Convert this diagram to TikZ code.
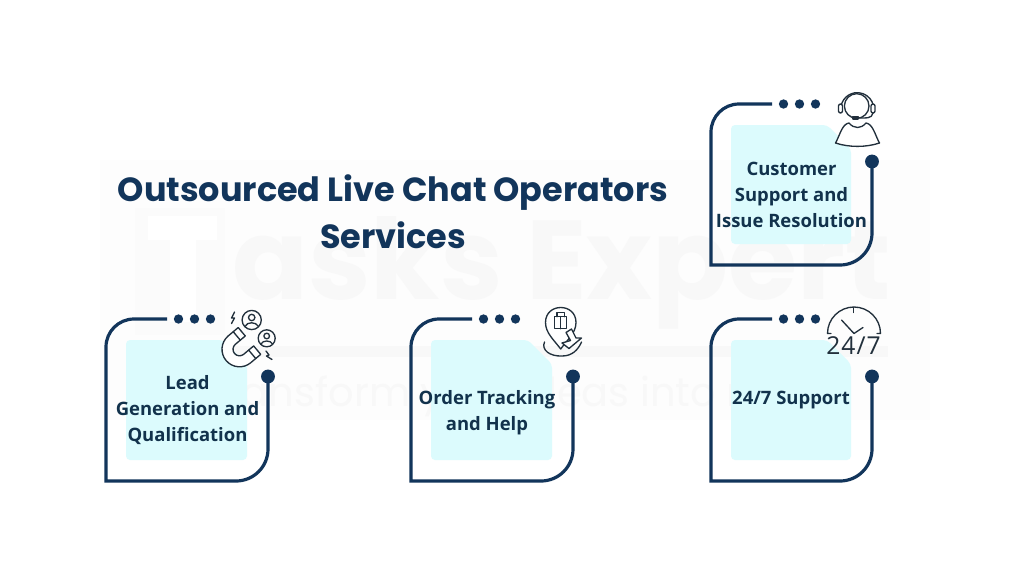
\documentclass[tikz,border=0pt]{standalone}
\usepackage{fontspec}
\setmainfont{Open Sans}
\newfontfamily\titlefont{Poppins}
\definecolor{navy}{HTML}{12355B}
\definecolor{labelink}{HTML}{12324C}
\definecolor{inkline}{HTML}{22303C}
\definecolor{tint}{HTML}{DCFBFD}
\definecolor{ghost}{HTML}{F8F8F8}
\definecolor{haze}{HTML}{FDFDFD}
\tikzset{
  frameline/.style={draw=navy,line width=2.4pt},
  panel/.style={fill=tint,rounded corners=3pt},
  dotmark/.style={circle,fill=navy,inner sep=0pt,minimum size=7pt},
  pinmark/.style={circle,fill=navy,inner sep=0pt,minimum size=10.4pt},
  cardlabel/.style={text=labelink,font=\fontsize{13.85}{19.5}\selectfont\bfseries,align=center,inner sep=0pt},
  headline/.style={text=navy,font=\titlefont\fontsize{25.1}{30}\selectfont\bfseries,inner sep=0pt,anchor=base},
  glyph/.style={draw=inkline,line width=1pt,line join=round,line cap=round},
}
% Service card: #1,#2 top-left of the frame, #3 width, #4 height, #5 name prefix
\newcommand{\servicecard}[5]{%
  \begin{scope}[shift={(#1,#2)}]
    \fill[panel] (20,21) -- (#3-45,21) -- (#3-21,45) -- (#3-21,#4-21) -- (20,#4-21) -- cycle;
    \node[dotmark] (#5d1) at (72.5,0) {};
    \node[dotmark] (#5d2) at (88.5,0) {};
    \node[dotmark] (#5d3) at (104.5,0) {};
    \node[pinmark] (#5p) at (#3,57.5) {};
    \coordinate (#5s) at (61,0);
    \draw[frameline] (#5s) -- (28,0) arc[start angle=-90,end angle=-180,radius=28]
      -- (0,#4) -- (#3-32,#4) arc[start angle=90,end angle=0,radius=32] -- (#5p.center);
  \end{scope}}
\begin{document}
\begin{tikzpicture}[x=0.75pt,y=0.75pt,yscale=-1]
\useasboundingbox (0,0) rectangle (1024,576);
\fill[white] (0,0) rectangle (1024,576);
% pale brand mark behind everything
\fill[haze] (100,160) rectangle (930,420);
\fill[ghost!60!white] (135,208) rectangle (225,335);
\fill[white] (148,216) rectangle (217,240);
\fill[white] (170,240) rectangle (196,322);
\fill[ghost] (135,346) rectangle (888,357);
\node[text=ghost,font=\titlefont\fontsize{84}{84}\selectfont\bfseries,anchor=base west,inner sep=0pt] (brand) at (232,299) {asks Expert};
\node[text=ghost,font=\titlefont\fontsize{30}{30}\selectfont,anchor=base west,inner sep=0pt] (motto) at (205,406) {Transform your ideas into reality};
% heading
\node[headline] (h1) at (393,201.5) {Outsourced Live Chat Operators};
\node[headline] (h2) at (393,248.5) {Services};
% cards
\servicecard{711}{104}{161}{161}{cs}
\servicecard{106}{319}{162}{162}{lg}
\servicecard{411}{319}{162}{162}{ot}
\servicecard{711}{319}{161}{162}{ts}
\node[cardlabel] (csl) at (791.5,195) {Customer\\Support and\\Issue Resolution};
\node[cardlabel] (lgl) at (187.5,410.5) {Lead\\Generation and\\Qualification};
\node[cardlabel] (otl) at (487,413) {Order Tracking\\and Help};
\node[cardlabel] (tsl) at (791,400) {24/7 Support};
% headset operator
\draw[glyph] (856.7,106) circle[radius=12.3];
\draw[glyph] (841,112) arc[start angle=170,end angle=370,radius=16.5];
\draw[glyph,fill=white,rounded corners=1.5pt] (838.5,104) rectangle (842.5,113);
\draw[glyph,fill=white,rounded corners=1.5pt] (871,104) rectangle (875,113);
\draw[glyph] (873,113) .. controls (872,119) and (865,118) .. (858,118);
\draw[glyph,fill=inkline] (853,116.5) rectangle (858,119);
\draw[glyph,fill=white] (835.5,143) .. controls (840,135) and (842,124) .. (849,123)
  .. controls (854,129) and (861,129) .. (866,123)
  .. controls (873,124) and (875,135) .. (879.5,143)
  .. controls (866,147.5) and (849,147.5) .. (835.5,143) -- cycle;
% magnet and two contacts
\begin{scope}[shift={(239.5,349.3)},rotate=-40]
  \draw[glyph,fill=white] (13,-17.5) -- (0,-17.5) arc[start angle=-90,end angle=-270,radius=17.5] -- (13,17.5)
    -- (13,6.5) -- (0,6.5) arc[start angle=90,end angle=270,radius=6.5] -- (13,-6.5) -- cycle;
  \draw[glyph] (6.5,-17.5) -- (6.5,-6.5) (6.5,6.5) -- (6.5,17.5);
\end{scope}
\draw[glyph] (251.7,320) circle[radius=9.6];
\draw[glyph] (251.7,317.5) circle[radius=3.2];
\draw[glyph] (245,326.5) .. controls (247,321.5) and (256,321.5) .. (258.5,326.5);
\draw[glyph] (266.7,338.3) circle[radius=8.5];
\draw[glyph] (266.7,336) circle[radius=2.8];
\draw[glyph] (261,344) .. controls (262.5,340) and (271,340) .. (272.5,344);
\draw[glyph] (234.5,312) -- (231.5,318) -- (234.5,318) -- (231.5,323.5);
\draw[glyph] (266,351) -- (269,355) -- (266.5,356) -- (272,359.5);
% map pin, parcel and arrow
\draw[glyph] (544.5,342) .. controls (541,350) and (550,356.5) .. (562,356) .. controls (572,356) and (578,350) .. (581.5,342);
\draw[glyph,fill=white] (560.7,349) .. controls (554,340) and (545.5,333) .. (545.5,322.5)
  .. controls (545.5,302.5) and (576,302.5) .. (576,322.5)
  .. controls (576,333) and (567,340) .. (560.7,349) -- cycle;
\draw[glyph] (554.8,316.7) rectangle (566.7,328.7);
\draw[glyph] (557,316.7) -- (557,312.5) -- (564.5,312.5) -- (564.5,316.7);
\draw[glyph] (560.7,316.7) -- (560.7,328.7);
\draw[glyph,fill=white] (566,332.5) -- (571.5,329) -- (576,338) -- (581.5,338) -- (569,348.5) -- (562,343) -- (570.5,340.5) -- cycle;
% clock over the round-the-clock figure
\draw[glyph] (831,333.5) -- (827.5,333.5) arc[start angle=180,end angle=360,radius=26.5] -- (877,333.5);
\draw[glyph] (853.7,307.5) -- (853.7,312.5);
\draw[glyph] (841.5,320) -- (854,333.5) -- (863,327.5);
\node[text=inkline,font=\fontsize{18.5}{18.5}\selectfont\addfontfeature{LetterSpace=4},anchor=base,inner sep=0pt] (tsfig) at (853.5,354) {24/7};
\end{tikzpicture}
\end{document}
